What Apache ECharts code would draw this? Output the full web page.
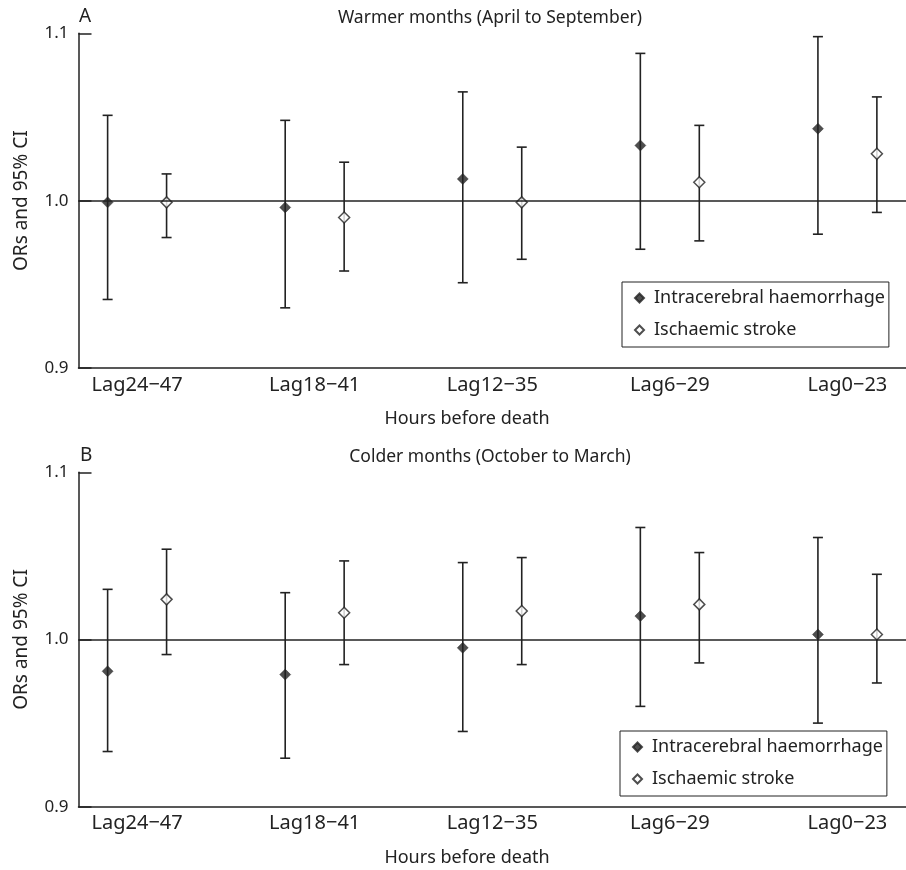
<!DOCTYPE html>
<html>
<head>
<meta charset="utf-8">
<script src="https://cdn.jsdelivr.net/npm/echarts@6/dist/echarts.min.js"></script>
<style>
  html, body { margin: 0; padding: 0; background: #fff; }
  #chart { width: 906px; height: 870px; }
</style>
</head>
<body>
<div id="chart"></div>
<script>
const categories = ['Lag24\u221247', 'Lag18\u221241', 'Lag12\u221235', 'Lag6\u221229', 'Lag0\u221223'];
const yTicks = [0.9, 1.0, 1.1];

// Panel A: warmer months
const warmIchOr = [0.999, 0.996, 1.013, 1.033, 1.043];
const warmIchLo = [0.941, 0.936, 0.951, 0.971, 0.980];
const warmIchHi = [1.051, 1.048, 1.065, 1.088, 1.098];
const warmIsOr = [0.999, 0.990, 0.999, 1.011, 1.028];
const warmIsLo = [0.978, 0.958, 0.965, 0.976, 0.993];
const warmIsHi = [1.016, 1.023, 1.032, 1.045, 1.062];

// Panel B: colder months
const coldIchOr = [0.981, 0.979, 0.995, 1.014, 1.003];
const coldIchLo = [0.933, 0.929, 0.945, 0.960, 0.950];
const coldIchHi = [1.030, 1.028, 1.046, 1.067, 1.061];
const coldIsOr = [1.024, 1.016, 1.017, 1.021, 1.003];
const coldIsLo = [0.991, 0.985, 0.985, 0.986, 0.974];
const coldIsHi = [1.054, 1.047, 1.049, 1.052, 1.039];

const ICH = 'Intracerebral haemorrhage';
const IS = 'Ischaemic stroke';
const INK = '#222';
const FONT = 'Noto Sans';
const SHIFT = 0.166;

const chart = echarts.init(document.getElementById('chart'));

function errorBars(idx, shift, lo, hi) {
  return {
    type: 'custom',
    xAxisIndex: idx,
    yAxisIndex: idx,
    silent: true,
    z: 2,
    data: lo.map((l, i) => [i + shift, l, hi[i]]),
    renderItem: (params, api) => {
      const top = api.coord([api.value(0), api.value(2)]);
      const bot = api.coord([api.value(0), api.value(1)]);
      const w = 5;
      const style = { stroke: INK, lineWidth: 1.6 };
      return {
        type: 'group',
        children: [
          { type: 'line', shape: { x1: top[0], y1: top[1], x2: bot[0], y2: bot[1] }, style },
          { type: 'line', shape: { x1: top[0] - w, y1: top[1], x2: top[0] + w, y2: top[1] }, style },
          { type: 'line', shape: { x1: bot[0] - w, y1: bot[1], x2: bot[0] + w, y2: bot[1] }, style }
        ]
      };
    }
  };
}

function points(idx, name, shift, vals, filled) {
  return {
    type: 'scatter',
    name,
    xAxisIndex: idx,
    yAxisIndex: idx,
    symbol: 'diamond',
    symbolSize: 11,
    z: 4,
    itemStyle: filled
      ? { color: INK, borderColor: INK, borderWidth: 0.5 }
      : { color: '#fff', borderColor: INK, borderWidth: 1.5 },
    data: vals.map((v, i) => [i + shift, v])
  };
}

function refLine(idx) {
  return {
    type: 'line',
    xAxisIndex: idx,
    yAxisIndex: idx,
    data: [],
    silent: true,
    markLine: {
      silent: true,
      symbol: 'none',
      label: { show: false },
      lineStyle: { color: INK, width: 1.5, type: 'solid' },
      data: [{ yAxis: 1.0 }]
    }
  };
}

const xAxisBase = {
  type: 'value',
  min: -0.33,
  max: 4.33,
  axisLine: { onZero: false, lineStyle: { color: INK, width: 1.5 } },
  axisTick: { show: false },
  splitLine: { show: false },
  axisLabel: {
    customValues: [0, 1, 2, 3, 4],
    formatter: v => categories[Math.round(v)],
    color: INK,
    fontFamily: FONT,
    fontSize: 20,
    margin: 7
  }
};

const yAxisBase = {
  type: 'value',
  min: yTicks[0],
  max: yTicks[2],
  interval: 0.1,
  name: 'ORs and 95% CI',
  nameLocation: 'middle',
  nameGap: 47,
  nameTextStyle: { color: INK, fontFamily: FONT, fontSize: 19 },
  axisLine: { show: true, onZero: false, lineStyle: { color: INK, width: 1.5 } },
  axisTick: { show: true, inside: true, length: 13, lineStyle: { color: INK, width: 1.5 } },
  splitLine: { show: false },
  axisLabel: {
    color: INK,
    fontFamily: FONT,
    fontSize: 17,
    margin: 10,
    formatter: v => v.toFixed(1)
  }
};

const legendBase = {
  data: [ICH, IS],
  orient: 'vertical',
  borderColor: INK,
  borderWidth: 1,
  padding: [7, 4, 8, 12],
  itemGap: 14,
  itemWidth: 9,
  itemHeight: 9,
  selectedMode: false,
  textStyle: { color: INK, fontFamily: FONT, fontSize: 18, padding: [0, 0, 0, 5] }
};

function text(x, y, str, size, align) {
  return {
    type: 'text',
    x, y,
    style: {
      text: str,
      fill: INK,
      font: size + 'px "' + FONT + '"',
      textAlign: align || 'center',
      textVerticalAlign: 'middle'
    }
  };
}

chart.setOption({
  backgroundColor: '#fff',
  animation: false,
  grid: [
    { left: 78.5, right: 0, top: 33.3, height: 334.8 },
    { left: 78.5, right: 0, top: 472.3, height: 334.4 }
  ],
  xAxis: [
    Object.assign({ gridIndex: 0 }, xAxisBase),
    Object.assign({ gridIndex: 1 }, xAxisBase)
  ],
  yAxis: [
    Object.assign({ gridIndex: 0 }, yAxisBase),
    Object.assign({ gridIndex: 1 }, yAxisBase)
  ],
  legend: [
    Object.assign({ left: 622, top: 282 }, legendBase),
    Object.assign({ left: 620, top: 731 }, legendBase)
  ],
  graphic: [
    text(79, 17, 'A', 19, 'left'),
    text(490, 18, 'Warmer months (April to September)', 17.5),
    text(467, 419, 'Hours before death', 18),
    text(80, 456, 'B', 19, 'left'),
    text(490, 457, 'Colder months (October to March)', 17.5),
    text(467, 858, 'Hours before death', 18)
  ],
  series: [
    refLine(0),
    errorBars(0, -SHIFT, warmIchLo, warmIchHi),
    errorBars(0, SHIFT, warmIsLo, warmIsHi),
    points(0, ICH, -SHIFT, warmIchOr, true),
    points(0, IS, SHIFT, warmIsOr, false),
    refLine(1),
    errorBars(1, -SHIFT, coldIchLo, coldIchHi),
    errorBars(1, SHIFT, coldIsLo, coldIsHi),
    points(1, ICH, -SHIFT, coldIchOr, true),
    points(1, IS, SHIFT, coldIsOr, false)
  ]
});
</script>
</body>
</html>
